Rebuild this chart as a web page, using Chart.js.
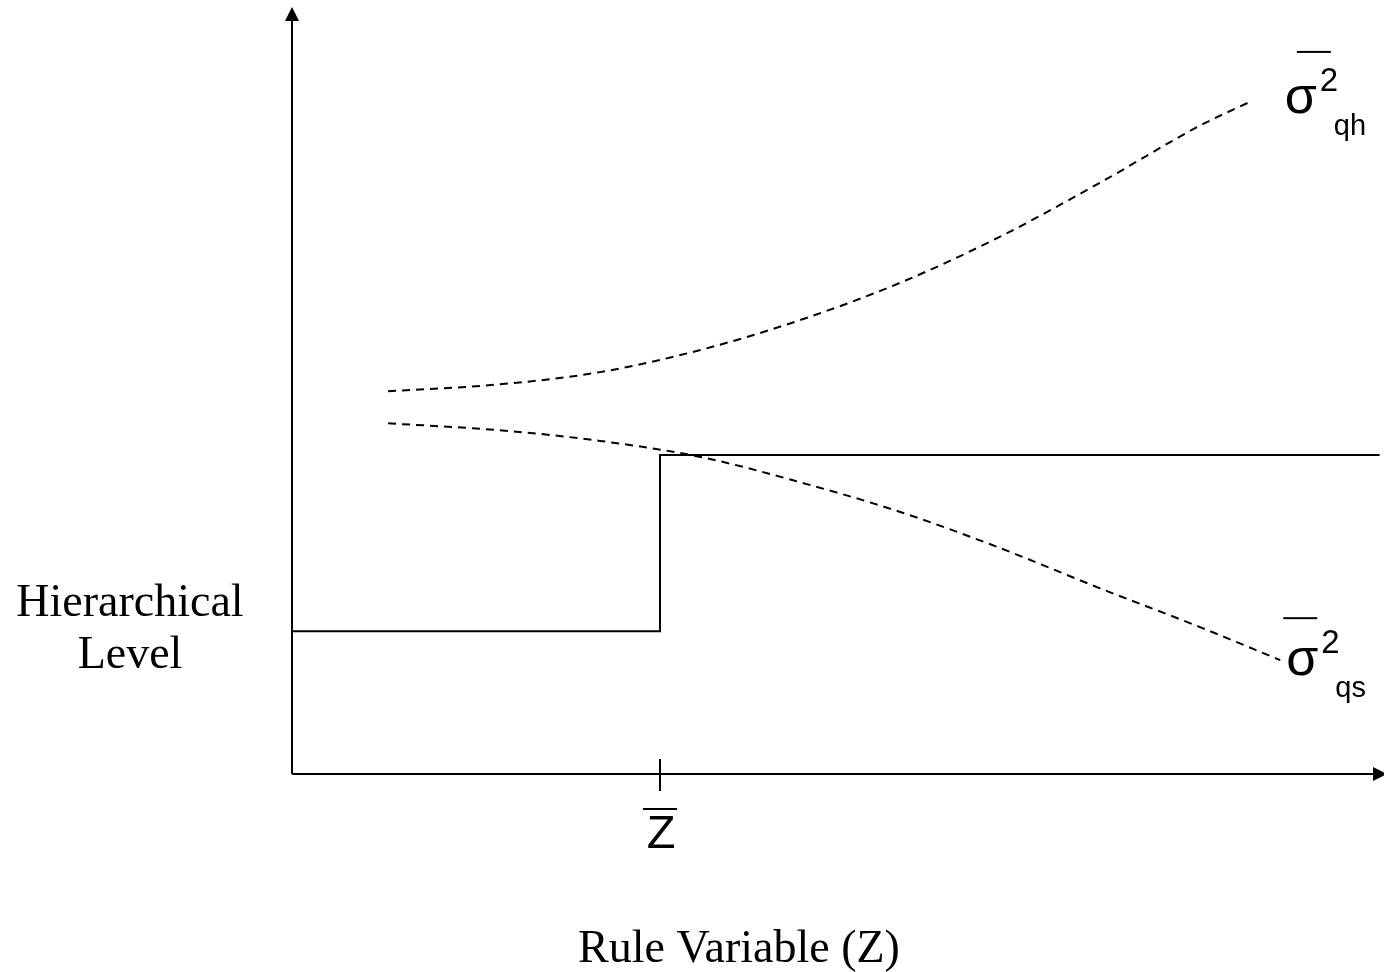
<!DOCTYPE html>
<html>
<head>
<meta charset="utf-8">
<script src="https://cdn.jsdelivr.net/npm/chart.js@4/dist/chart.umd.min.js"></script>
<style>
  html, body { margin: 0; padding: 0; background: #fff; }
  #wrap { width: 1384px; height: 972px; position: relative; }
</style>
</head>
<body>
<div id="wrap"><canvas id="chart"></canvas></div>
<script>
// data (arbitrary units, 0-100 on both axes)
const stepX = [0, 33.7, 33.7, 99.6];
const stepY = [18.7, 18.7, 41.75, 41.75];
const zBar = 33.7;

const qhX = [8.8, 19.0, 28.2, 37.4, 46.5, 55.7, 64.8, 74.0, 83.2, 87.9];
const qhY = [50.1, 51.0, 52.6, 55.5, 59.4, 64.3, 70.3, 77.4, 84.9, 88.1];

const qsX = [8.8, 19.0, 28.2, 37.4, 46.5, 55.7, 64.8, 74.0, 83.2, 90.5];
const qsY = [45.9, 45.0, 43.6, 41.5, 38.2, 34.3, 29.6, 24.3, 19.2, 14.9];

const yTitle = ['Hierarchical', 'Level'];
const xTitle = 'Rule Variable (Z)';

function toPoints(xs, ys) {
  return xs.map((x, i) => ({ x: x, y: ys[i] }));
}

// draws axes with arrows, Z-bar tick and all labels
const decorPlugin = {
  id: 'decor',
  afterDatasetsDraw(chart) {
    const ctx = chart.ctx;
    const xs = chart.scales.x;
    const ys = chart.scales.y;
    const x0 = xs.getPixelForValue(0);
    const y0 = ys.getPixelForValue(0);
    const xEnd = xs.getPixelForValue(100);
    const yEnd = ys.getPixelForValue(100);
    ctx.save();
    ctx.strokeStyle = '#000';
    ctx.fillStyle = '#000';
    ctx.lineWidth = 2;
    ctx.beginPath();
    ctx.moveTo(x0, y0);
    ctx.lineTo(x0, yEnd + 8);
    ctx.moveTo(x0, y0);
    ctx.lineTo(xEnd - 6, y0);
    ctx.stroke();
    // arrow heads
    ctx.beginPath();
    ctx.moveTo(x0, yEnd - 3);
    ctx.lineTo(x0 - 7, yEnd + 11);
    ctx.lineTo(x0 + 7, yEnd + 11);
    ctx.closePath();
    ctx.fill();
    ctx.beginPath();
    ctx.moveTo(xEnd + 3, y0);
    ctx.lineTo(xEnd - 11, y0 - 7);
    ctx.lineTo(xEnd - 11, y0 + 7);
    ctx.closePath();
    ctx.fill();
    // tick at Z bar
    const zx = xs.getPixelForValue(zBar);
    ctx.beginPath();
    ctx.moveTo(zx, y0 - 15);
    ctx.lineTo(zx, y0 + 17);
    ctx.stroke();

    // Z bar label
    ctx.textBaseline = 'alphabetic';
    ctx.textAlign = 'center';
    ctx.font = '47px "Liberation Sans", Arial, sans-serif';
    ctx.fillText('Z', zx + 1, y0 + 74);
    ctx.fillRect(zx - 17, y0 + 34, 34, 2);

    // sigma labels
    function sigma(px, py, sub) {
      ctx.textAlign = 'left';
      ctx.font = '52px "Liberation Sans", Arial, sans-serif';
      ctx.fillText('\u03c3', px, py);
      ctx.font = '33px "Liberation Sans", Arial, sans-serif';
      ctx.fillText('2', px + 35, py - 22);
      ctx.font = '29px "Liberation Sans", Arial, sans-serif';
      ctx.fillText(sub, px + 49, py + 22);
    }
    const qhLast = qhX.length - 1;
    const qsLast = qsX.length - 1;
    const ax = xs.getPixelForValue(qhX[qhLast]);
    const ay = ys.getPixelForValue(qhY[qhLast]);
    sigma(ax + 33, ay + 12, 'qh');
    ctx.fillRect(ax + 45, ay - 50, 34, 2);
    const bx = xs.getPixelForValue(qsX[qsLast]);
    const by = ys.getPixelForValue(qsY[qsLast]);
    sigma(bx + 6, by + 15, 'qs');
    ctx.fillRect(bx + 3, by - 43, 34, 2);

    // axis titles
    ctx.textAlign = 'center';
    ctx.font = '46px "Liberation Serif", "Times New Roman", serif';
    ctx.fillText(yTitle[0], 130, 616);
    ctx.fillText(yTitle[1], 130, 668);
    ctx.fillText(xTitle, 739, 962);
    ctx.restore();
  }
};

const dashStyle = {
  borderColor: '#000',
  borderWidth: 2,
  borderDash: [8, 6],
  pointRadius: 0,
  fill: false,
  cubicInterpolationMode: 'monotone'
};

new Chart(document.getElementById('chart'), {
  type: 'line',
  data: {
    datasets: [
      {
        label: 'step',
        data: toPoints(stepX, stepY),
        borderColor: '#000',
        borderWidth: 2,
        pointRadius: 0,
        tension: 0,
        fill: false
      },
      Object.assign({ label: 'qh', data: toPoints(qhX, qhY) }, dashStyle),
      Object.assign({ label: 'qs', data: toPoints(qsX, qsY) }, dashStyle)
    ]
  },
  options: {
    responsive: true,
    maintainAspectRatio: false,
    animation: false,
    layout: { padding: { left: 292, right: 0, top: 10, bottom: 198 } },
    plugins: { legend: { display: false }, tooltip: { enabled: false } },
    scales: {
      x: { type: 'linear', min: 0, max: 100, display: false },
      y: { type: 'linear', min: 0, max: 100, display: false }
    }
  },
  plugins: [decorPlugin]
});
</script>
</body>
</html>
